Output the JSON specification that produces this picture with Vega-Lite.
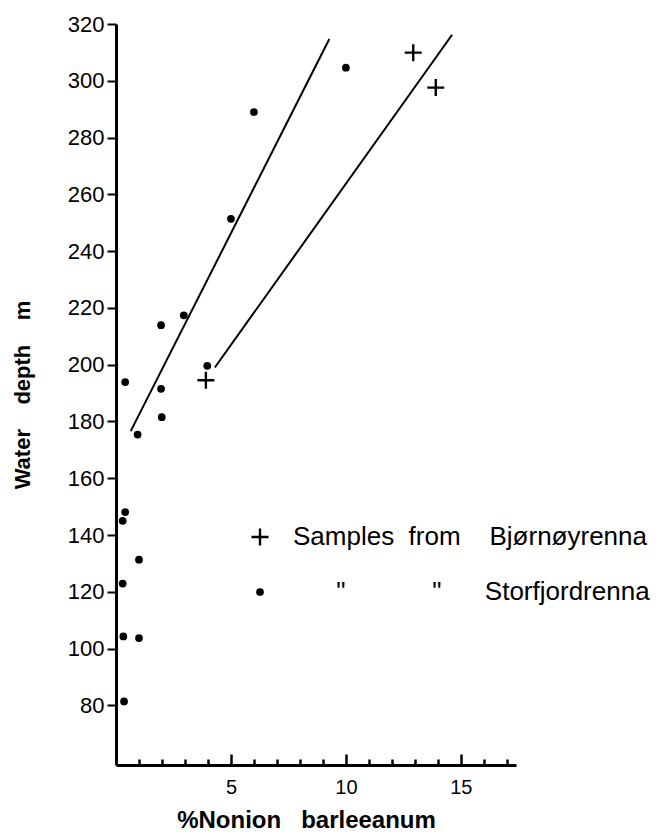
{
  "$schema": "https://vega.github.io/schema/vega-lite/v6.json",
  "width": 400,
  "height": 741,
  "autosize": {"type": "none"},
  "padding": {"left": 116, "top": 24, "right": 143, "bottom": 72},
  "background": "white",
  "config": {
    "view": {"stroke": null},
    "font": "Liberation Sans",
    "axis": {"grid": false, "domainColor": "black", "tickColor": "black", "labelColor": "black", "titleColor": "black"}
  },
  "datasets": {
    "pts": [
      {"pct": 10, "depth": 304.6, "series": "Storfjordrenna"},
      {"pct": 6, "depth": 289, "series": "Storfjordrenna"},
      {"pct": 5, "depth": 251.4, "series": "Storfjordrenna"},
      {"pct": 2.95, "depth": 217.4, "series": "Storfjordrenna"},
      {"pct": 1.96, "depth": 213.9, "series": "Storfjordrenna"},
      {"pct": 3.97, "depth": 199.6, "series": "Storfjordrenna"},
      {"pct": 0.4, "depth": 193.9, "series": "Storfjordrenna"},
      {"pct": 1.96, "depth": 191.5, "series": "Storfjordrenna"},
      {"pct": 1.99, "depth": 181.5, "series": "Storfjordrenna"},
      {"pct": 0.94, "depth": 175.4, "series": "Storfjordrenna"},
      {"pct": 0.4, "depth": 148.1, "series": "Storfjordrenna"},
      {"pct": 0.29, "depth": 145, "series": "Storfjordrenna"},
      {"pct": 1, "depth": 131.3, "series": "Storfjordrenna"},
      {"pct": 0.29, "depth": 122.9, "series": "Storfjordrenna"},
      {"pct": 0.32, "depth": 104.3, "series": "Storfjordrenna"},
      {"pct": 1, "depth": 103.7, "series": "Storfjordrenna"},
      {"pct": 0.35, "depth": 81.4, "series": "Storfjordrenna"},
      {"pct": 3.91, "depth": 194.5, "series": "Bjørnøyrenna"},
      {"pct": 12.93, "depth": 309.9, "series": "Bjørnøyrenna"},
      {"pct": 13.91, "depth": 297.6, "series": "Bjørnøyrenna"}
    ],
    "lines": [
      {"pct": 0.64, "depth": 176.6, "line": "Storfjordrenna"},
      {"pct": 9.28, "depth": 314.7, "line": "Storfjordrenna"},
      {"pct": 4.3, "depth": 199.0, "line": "Bjørnøyrenna"},
      {"pct": 14.62, "depth": 316.2, "line": "Bjørnøyrenna"}
    ]
  },
  "layer": [
    {
      "data": {"name": "pts"},
      "mark": {"type": "point", "filled": true, "opacity": 1, "color": "black", "strokeWidth": 0},
      "encoding": {
        "x": {
          "field": "pct", "type": "quantitative",
          "scale": {"domain": [0, 17.4], "nice": false, "zero": false},
          "axis": {
            "orient": "bottom", "values": [5, 10, 15],
            "tickSize": -11, "tickWidth": 2.5, "domain": true, "domainWidth": 3,
            "labelFontSize": 20, "labelPadding": 23,
            "title": "%Nonion\u00a0\u00a0\u00a0barleeanum", "titleFontSize": 24, "titleFontWeight": "bold",
            "titlePadding": 11, "titleX": 190
          }
        },
        "y": {
          "field": "depth", "type": "quantitative",
          "scale": {"domain": [59, 320], "nice": false, "zero": false},
          "axis": {
            "values": [80, 100, 120, 140, 160, 180, 200, 220, 240, 260, 280, 300, 320],
            "tickSize": 9, "tickWidth": 2, "domainWidth": 3,
            "labelFontSize": 22, "labelPadding": 3,
            "title": "Water\u00a0\u00a0\u00a0\u00a0depth\u00a0\u00a0\u00a0\u00a0m", "titleFontSize": 22, "titleFontWeight": "bold",
            "titlePadding": 33
          }
        },
        "shape": {
          "field": "series", "type": "nominal",
          "scale": {"domain": ["Bjørnøyrenna", "Storfjordrenna"], "range": ["M-1,-0.14H-0.14V-1H0.14V-0.14H1V0.14H0.14V1H-0.14V0.14H-1Z", "circle"]},
          "legend": {
            "title": null, "orient": "none", "legendX": 131, "legendY": 500, "padding": 0,
            "labelFontSize": 26, "labelOffset": 20, "rowPadding": 29, "labelLimit": 0,
            "symbolFillColor": "black", "symbolStrokeWidth": 0, "symbolOpacity": 1,
            "labelExpr": "datum.label === 'Bjørnøyrenna' ? 'Samples\u00a0\u00a0from\u00a0\u00a0\u00a0\u00a0Bjørnøyrenna' : '\u200b\u00a0\u00a0\u00a0\u00a0\u00a0\u00a0\"\u00a0\u00a0\u00a0\u00a0\u00a0\u00a0\u00a0\u00a0\u00a0\u00a0\u00a0\u00a0\"\u00a0\u00a0\u00a0\u00a0\u00a0\u00a0Storfjordrenna'"
          }
        },
        "size": {
          "field": "series", "type": "nominal",
          "scale": {"domain": ["Bjørnøyrenna", "Storfjordrenna"], "range": [289, 60]},
          "legend": {
            "title": null, "orient": "none", "legendX": 131, "legendY": 500, "padding": 0,
            "labelFontSize": 26, "labelOffset": 20, "rowPadding": 29, "labelLimit": 0,
            "symbolFillColor": "black", "symbolStrokeWidth": 0, "symbolOpacity": 1,
            "labelExpr": "datum.label === 'Bjørnøyrenna' ? 'Samples\u00a0\u00a0from\u00a0\u00a0\u00a0\u00a0Bjørnøyrenna' : '\u200b\u00a0\u00a0\u00a0\u00a0\u00a0\u00a0\"\u00a0\u00a0\u00a0\u00a0\u00a0\u00a0\u00a0\u00a0\u00a0\u00a0\u00a0\u00a0\"\u00a0\u00a0\u00a0\u00a0\u00a0\u00a0Storfjordrenna'"
          }
        }
      }
    },
    {
      "data": {"name": "lines"},
      "mark": {"type": "line", "color": "black", "strokeWidth": 2},
      "encoding": {
        "x": {
          "field": "pct", "type": "quantitative",
          "axis": {"orient": "bottom", "values": [1, 2, 3, 4, 6, 7, 8, 9, 11, 12, 13, 14, 16, 17], "tickSize": -6, "tickWidth": 2.5, "labels": false, "domain": false, "title": null}
        },
        "y": {"field": "depth", "type": "quantitative"},
        "detail": {"field": "line", "type": "nominal"}
      }
    }
  ],
  "resolve": {"axis": {"x": "independent"}}
}
